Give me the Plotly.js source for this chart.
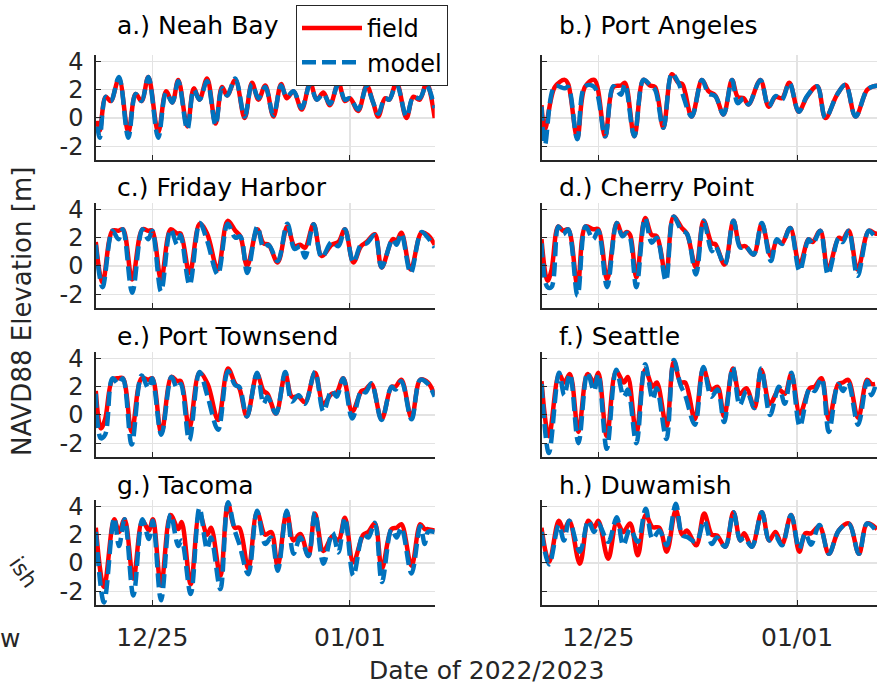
<!DOCTYPE html>
<html>
<head>
<meta charset="utf-8">
<script src="https://cdn.plot.ly/plotly-3.0.1.min.js"></script>
<style>html,body{margin:0;padding:0;background:#fff;}#chart{width:877px;height:687px;}</style>
</head>
<body>
<div id="chart"></div>
<script>
// Times are days after 2022-12-25 00:00; values are NAVD88 elevation [m]
const neahT = [-1.94,-1.86,-1.65,-1.47,-1.18,-0.85,-0.59,-0.38,-0.14,0.21,0.49,0.71,0.92,1.24,1.47,1.67,1.94,2.24,2.47,2.65,2.94,3.27,3.53,3.76,4.00,4.29,4.56,4.76,5.00,5.29,5.59,5.82,6.06,6.29,6.59,6.82,7.00,7.29,7.59,7.82,8.00,8.24,8.39,8.65,9.00,9.24,9.47,9.71,10.0];
const neahField = [-0.2,-0.9,1.5,1.2,2.8,-1.0,1.7,1.2,2.9,-1.0,1.9,1.1,2.7,-0.6,2.1,1.3,2.8,-0.4,2.2,1.6,2.7,0.0,2.5,1.3,2.3,0.1,2.4,1.4,1.9,0.6,2.5,1.3,1.8,0.9,2.5,1.2,1.4,0.5,2.3,1.1,0.1,1.4,1.3,2.5,0.0,1.5,1.3,2.5,0.0];
const neahModel = [-0.6,-1.4,1.5,1.2,2.9,-1.4,1.7,1.2,2.9,-1.4,1.8,1.1,2.6,-0.8,2.0,1.3,2.6,-0.5,2.1,1.6,2.8,0.1,2.4,1.4,2.2,0.2,2.3,1.5,1.9,0.7,2.4,1.3,1.7,1.0,2.4,1.3,1.4,0.6,2.2,1.1,0.3,1.4,1.3,2.4,0.1,1.5,1.4,2.3,0.7];

const paT = [-2.0,-1.88,-1.53,-1.18,-1.06,-0.74,-0.47,-0.14,0.24,0.53,0.8,0.94,1.27,1.59,1.82,2.0,2.29,2.59,2.82,2.96,3.29,3.65,3.88,4.12,4.41,4.71,4.91,5.12,5.29,5.71,6.0,6.24,6.47,6.73,7.06,7.35,7.71,8.0,8.41,8.71,9.06,9.47,9.71,9.94];
const paField = [0.9,-0.8,2.2,2.7,2.4,-1.4,2.2,2.7,-1.3,2.2,2.3,2.5,-1.3,2.7,2.3,2.2,-0.7,3.1,2.5,2.4,0.1,2.7,1.9,1.6,0.25,2.7,1.5,1.4,0.95,2.7,0.8,1.5,1.4,2.5,0.45,1.5,2.25,0.0,1.65,2.35,0.1,2.0,2.25,2.3];
const paModel = [0.8,-1.9,2.25,2.1,2.2,-1.5,2.25,2.2,-1.3,2.25,1.65,2.4,-1.3,2.7,2.35,2.0,-0.7,3.15,2.5,1.75,0.1,2.7,1.75,1.55,0.25,2.7,1.05,1.4,0.95,2.7,0.8,1.55,1.3,2.5,0.45,1.55,2.25,0.0,1.65,2.35,0.1,2.0,2.25,2.3];

const fhT = [-2.0,-1.76,-1.41,-1.2,-1.04,-0.71,-0.35,-0.14,0.0,0.31,0.65,0.88,1.0,1.32,1.68,1.94,2.32,2.67,2.94,3.12,3.36,3.72,3.94,4.12,4.44,4.78,5.04,5.24,5.41,5.71,6.0,6.35,6.59,6.82,7.12,7.39,7.59,7.88,8.12,8.51,8.65,8.82,9.15,9.53,9.76,10.0];
const fhField = [1.7,-1.2,2.5,2.5,2.6,-0.95,2.6,2.5,2.5,-0.95,2.6,2.3,2.3,-0.5,3.0,2.3,-0.25,3.2,2.5,2.1,0.0,2.6,1.6,1.5,0.25,2.8,1.4,1.5,1.3,2.95,0.7,1.5,1.7,2.6,0.25,1.4,1.7,2.25,-0.1,1.9,1.8,2.35,-0.25,2.35,2.2,1.5];
const fhModel = [1.5,-1.5,2.5,1.9,2.6,-1.9,2.6,1.9,2.5,-1.8,2.6,1.5,2.2,-1.35,3.05,1.8,-0.6,3.0,2.0,2.1,-0.5,2.8,1.3,1.5,0.35,3.0,1.2,1.4,0.6,2.95,0.6,1.7,1.4,2.6,0.25,1.5,1.6,2.2,-0.1,1.9,1.5,2.3,-0.5,2.4,2.0,1.3];

const cpT = [-2.0,-1.79,-1.65,-1.41,-1.24,-1.06,-0.73,-0.45,-0.18,0.0,0.31,0.65,0.85,1.0,1.12,1.34,1.65,1.88,2.06,2.38,2.65,2.94,3.12,3.44,3.71,4.0,4.12,4.45,4.76,5.0,5.18,5.47,5.76,6.08,6.29,6.47,6.76,7.09,7.41,7.55,7.82,8.09,8.47,8.61,8.82,9.13,9.53,9.76,10.0];
const cpField = [1.9,-1.05,-0.3,2.8,2.5,2.6,-1.4,2.8,2.6,2.6,-0.95,3.05,2.2,2.4,2.2,-0.8,3.4,2.2,2.1,-0.7,3.5,2.7,2.3,-0.1,3.2,1.6,1.55,0.1,3.2,1.4,1.4,0.8,3.0,0.7,1.8,1.6,2.7,0.1,1.9,1.7,2.5,-0.25,2.0,1.9,2.5,-0.25,2.5,2.3,2.3];
const cpModel = [1.6,-1.5,-1.5,2.8,2.25,2.6,-2.1,2.8,1.9,2.5,-1.5,3.05,2.1,2.35,2.0,-1.5,3.4,1.65,2.0,-1.05,3.5,2.5,2.3,-0.6,3.2,1.05,1.4,0.1,3.2,1.3,1.4,0.8,3.05,0.35,1.9,1.55,2.7,-0.35,1.9,1.55,2.5,-0.6,2.0,1.7,2.5,-0.7,2.5,2.1,2.2];

const ptT = [-2.0,-1.82,-1.67,-1.41,-1.2,-1.04,-0.73,-0.38,-0.14,0.0,0.32,0.68,0.88,1.01,1.31,1.67,1.96,2.33,2.68,2.94,3.08,3.35,3.71,3.94,4.08,4.38,4.71,4.94,5.18,5.41,5.76,6.06,6.35,6.53,6.76,7.08,7.41,7.55,7.76,8.12,8.47,8.61,8.82,9.18,9.49,9.76,10.0];
const ptField = [1.7,-0.95,-0.3,2.5,2.6,2.6,-1.2,2.6,2.5,2.6,-1.3,2.7,2.4,2.4,-0.95,3.0,2.2,-0.35,3.3,2.2,1.9,-0.1,2.9,1.7,1.5,0.1,2.9,1.3,1.3,0.9,3.0,0.8,1.5,1.6,2.6,0.25,1.7,1.8,2.2,-0.3,2.0,2.0,2.5,-0.2,2.5,2.3,1.4];
const ptModel = [1.5,-1.65,-1.4,2.6,2.2,2.6,-2.1,2.8,1.9,2.6,-1.4,2.7,1.9,2.2,-1.8,3.05,1.3,-1.05,3.1,2.1,2.0,-0.1,3.0,0.8,1.3,0.1,3.05,0.95,1.4,0.8,3.05,0.25,1.75,1.3,2.6,-0.25,1.75,1.6,2.25,-0.35,2.0,1.8,2.4,-0.3,2.5,2.2,1.3];

const stT = [-2.0,-1.74,-1.38,-1.2,-1.0,-0.7,-0.38,-0.15,0.0,0.3,0.63,0.9,1.04,1.34,1.65,1.92,2.06,2.4,2.66,2.9,3.06,3.4,3.7,3.98,4.2,4.43,4.74,4.98,5.22,5.5,5.74,6.05,6.36,6.57,6.8,7.1,7.45,7.62,7.86,8.12,8.45,8.62,8.8,9.15,9.47,9.62,9.75];
const stField = [2.4,-1.5,2.9,2.3,2.9,-1.2,2.9,2.3,3.0,-1.5,3.1,2.3,2.7,-1.3,3.2,2.0,2.3,-0.8,3.8,2.3,2.3,-0.3,3.3,1.8,2.0,-0.1,3.3,1.5,1.9,0.5,3.2,0.8,1.8,1.5,2.9,0.1,1.9,2.0,2.6,-0.3,2.2,2.3,2.5,-0.2,2.5,2.2,2.2];
const stModel = [2.2,-2.7,3.0,1.4,2.9,-2.0,3.0,1.7,2.9,-2.4,3.2,1.3,1.8,-2.0,3.6,1.1,1.9,-1.7,3.9,2.1,1.4,-0.7,3.4,1.3,1.8,-0.5,3.4,0.7,1.7,0.5,3.3,0.0,2.0,0.8,3.0,-0.8,1.9,1.7,2.6,-1.2,2.2,1.7,2.3,-0.7,2.4,1.4,2.0];

const tacT = [-2.0,-1.71,-1.35,-1.18,-0.98,-0.67,-0.35,-0.12,0.02,0.31,0.65,0.92,1.04,1.36,1.67,1.94,2.08,2.41,2.68,2.92,3.08,3.4,3.71,4.0,4.21,4.44,4.76,5.0,5.24,5.53,5.76,6.06,6.38,6.59,6.82,7.12,7.47,7.65,7.88,8.13,8.47,8.65,8.82,9.18,9.49,9.65,9.76,10.0];
const tacField = [2.5,-1.7,3.1,2.2,3.1,-1.1,3.0,2.3,3.1,-1.6,3.4,2.4,2.9,-1.5,3.5,2.0,2.5,-0.9,4.2,2.5,2.5,-0.4,3.6,2.0,2.2,-0.2,3.6,1.6,2.05,0.5,3.5,0.85,1.9,1.6,3.2,0.05,2.0,2.2,2.8,-0.4,2.4,2.5,2.75,-0.2,2.75,2.4,2.4,2.3];
const tacModel = [2.2,-2.8,3.2,1.2,3.1,-2.3,3.1,1.7,3.0,-2.65,3.45,1.2,1.6,-2.2,3.9,1.0,1.8,-1.85,4.3,2.3,1.35,-0.8,3.7,1.35,1.8,-0.55,3.7,0.65,1.8,0.5,3.6,-0.05,2.15,0.75,3.2,-0.9,2.05,1.8,2.85,-1.35,2.4,1.8,2.5,-0.75,2.6,1.35,2.2,2.2];

const dwT = [-2.0,-1.73,-1.39,-1.21,-1.02,-0.65,-0.35,-0.15,0.0,0.35,0.65,0.88,1.12,1.39,1.67,1.91,2.15,2.41,2.73,2.96,3.12,3.45,3.73,4.0,4.18,4.47,4.76,5.0,5.14,5.41,5.76,6.02,6.24,6.47,6.79,7.08,7.29,7.49,7.79,8.12,8.47,8.82,9.18,9.47,9.82];
const dwField = [2.5,0.1,3.0,2.3,3.0,-0.05,3.0,2.5,3.0,0.3,2.9,2.2,2.8,0.55,3.4,2.55,2.5,0.8,3.75,2.0,2.3,1.25,3.5,2.0,1.95,1.15,3.6,1.6,2.1,1.15,3.6,1.6,2.2,1.3,3.4,0.8,2.1,2.1,2.6,0.65,2.3,2.8,0.65,2.8,2.4];
const dwModel = [2.2,-0.1,2.7,1.6,3.0,0.8,3.0,2.2,2.8,1.5,3.25,1.25,2.4,1.5,3.85,1.7,2.3,1.25,4.2,1.95,1.85,1.5,3.0,1.35,1.8,1.15,3.6,1.6,1.8,1.15,3.6,1.6,1.9,1.25,3.4,1.0,2.1,1.3,2.7,0.65,2.3,2.8,0.65,2.8,2.2];

const panelTitles = ['a.) Neah Bay','b.) Port Angeles','c.) Friday Harbor','d.) Cherry Point','e.) Port Townsend','f.) Seattle','g.) Tacoma','h.) Duwamish'];
const seriesNames = ['field','model'];
const xTickVals = ['2022-12-25','2023-01-01'];
const xTickText = ['12/25','01/01'];
const yTickVals = [-2,0,2,4];
const yTickText = ['-2','0','2','4'];

const stations = [
  [neahT, neahField, neahModel],
  [paT, paField, paModel],
  [fhT, fhField, fhModel],
  [cpT, cpField, cpModel],
  [ptT, ptField, ptModel],
  [stT, stField, stModel],
  [tacT, tacField, tacModel],
  [dwT, dwField, dwModel]
];

function toDate(d){
  const dt = new Date(Date.UTC(2022,11,25) + Math.round(d*86400000));
  const p = n => String(n).padStart(2,'0');
  return dt.getUTCFullYear()+'-'+p(dt.getUTCMonth()+1)+'-'+p(dt.getUTCDate())+' '+p(dt.getUTCHours())+':'+p(dt.getUTCMinutes())+':'+p(dt.getUTCSeconds());
}

const FONT = 'DejaVu Sans';
const W = 877, H = 687;
const RED = '#ff0000', BLUE = '#0072bd';

const traces = [];
stations.forEach((s, i) => {
  const k = i + 1;
  const ax = k === 1 ? '' : String(k);
  const xs = s[0].map(toDate);
  traces.push({x: xs, y: s[1], xaxis: 'x'+ax, yaxis: 'y'+ax, type: 'scatter', mode: 'lines',
    name: seriesNames[0], legendgroup: 'f', showlegend: i === 0,
    line: {color: RED, width: 4.5, shape: 'spline', smoothing: 1}, hoverinfo: 'skip'});
  traces.push({x: xs, y: s[2], xaxis: 'x'+ax, yaxis: 'y'+ax, type: 'scatter', mode: 'lines',
    name: seriesNames[1], legendgroup: 'm', showlegend: i === 0,
    line: {color: BLUE, width: 4.5, dash: '14px,6px', shape: 'spline', smoothing: 1}, hoverinfo: 'skip'});
});

// pixel geometry
const colX = [[95.8/W, 434.7/W], [541.5/W, 1]];
const colRange = [['2022-12-23 00:00:00','2023-01-04 00:00:00'], ['2022-12-23 00:00:00','2023-01-03 19:36:00']];
const rowY = [[160.3,54.5],[308.3,202.5],[457.3,351.5],[605.3,499.5]].map(r => [1 - r[0]/H, 1 - r[1]/H]);
const titleY = [25, 187, 336, 485];
const titleX = [115, 557];

const layout = {
  width: W, height: H,
  margin: {l:0, r:0, t:0, b:0},
  paper_bgcolor: '#fff', plot_bgcolor: '#fff',
  font: {family: FONT, color: '#262626'},
  showlegend: true,
  legend: {x: 296/W, y: 1 - 5/H, xanchor: 'left', yanchor: 'top', bgcolor: '#ffffff',
    bordercolor: '#262626', borderwidth: 1, font: {family: FONT, size: 24, color: '#000'},
    tracegroupgap: 0, itemwidth: 60},
  annotations: [],
};

for (let i = 0; i < 8; i++) {
  const k = i + 1;
  const col = i % 2, row = Math.floor(i / 2);
  const ax = k === 1 ? '' : String(k);
  layout['xaxis'+ax] = {
    type: 'date', domain: colX[col], range: colRange[col], anchor: 'y'+ax,
    tickmode: 'array', tickvals: xTickVals, ticktext: xTickText,
    showticklabels: row === 3, ticks: 'inside', ticklen: 5, tickcolor: '#262626', tickwidth: 1,
    showgrid: true, gridcolor: '#e3e3e3', gridwidth: 1.2, zeroline: false,
    showline: true, linecolor: '#262626', linewidth: 1.5, mirror: false,
    tickfont: {family: FONT, size: 25, color: '#262626'}, ticklabelstandoff: 9,
    fixedrange: true
  };
  layout['yaxis'+ax] = {
    domain: rowY[row], range: [-3, 4.5], anchor: 'x'+ax,
    tickmode: 'array', tickvals: yTickVals, ticktext: yTickText,
    showticklabels: col === 0, ticks: 'inside', ticklen: 5, tickcolor: '#262626', tickwidth: 1,
    showgrid: true, gridcolor: '#e3e3e3', gridwidth: 1.2, zeroline: false,
    showline: true, linecolor: '#262626', linewidth: 1.5, mirror: false,
    tickfont: {family: FONT, size: 24, color: '#262626'}, ticklabelstandoff: 6,
    fixedrange: true
  };
  layout.annotations.push({text: panelTitles[i], xref: 'paper', yref: 'paper',
    x: titleX[col]/W, y: 1 - titleY[row]/H, xanchor: 'left', yanchor: 'middle',
    showarrow: false, font: {family: FONT, size: 25, color: '#000'}});
}

layout.annotations.push({text: 'NAVD88 Elevation [m]', xref: 'paper', yref: 'paper',
  x: 22/W, y: 1 - 312/H, xanchor: 'center', yanchor: 'middle', textangle: -90,
  showarrow: false, font: {family: FONT, size: 26, color: '#262626'}});
layout.annotations.push({text: 'Date of 2022/2023', xref: 'paper', yref: 'paper',
  x: 486/W, y: 1 - 670/H, xanchor: 'center', yanchor: 'middle',
  showarrow: false, font: {family: FONT, size: 25, color: '#262626'}});
layout.annotations.push({text: 'ish', xref: 'paper', yref: 'paper',
  x: 24/W, y: 1 - 572/H, xanchor: 'center', yanchor: 'middle', textangle: 55,
  showarrow: false, font: {family: FONT, size: 22, color: '#262626'}});
layout.annotations.push({text: 'w', xref: 'paper', yref: 'paper',
  x: 10/W, y: 1 - 638/H, xanchor: 'center', yanchor: 'middle',
  showarrow: false, font: {family: FONT, size: 25, color: '#262626'}});

Plotly.newPlot('chart', traces, layout, {staticPlot: true, displayModeBar: false});
</script>
</body>
</html>
